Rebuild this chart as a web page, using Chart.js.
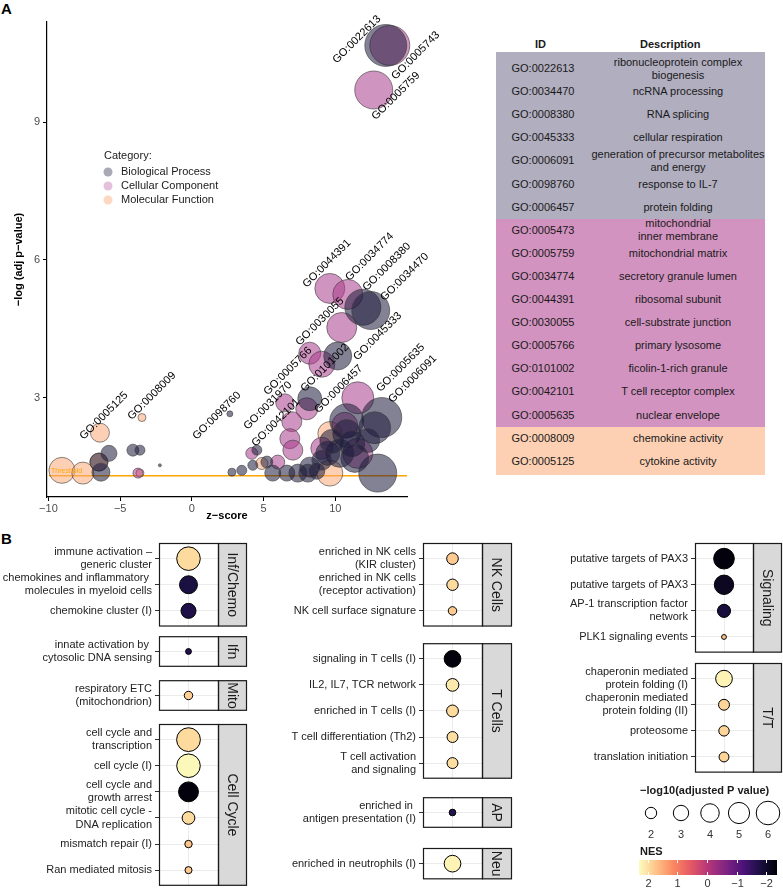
<!DOCTYPE html>
<html>
<head>
<meta charset="utf-8">
<script src="https://cdn.jsdelivr.net/npm/chart.js@4.4.1/dist/chart.umd.min.js"></script>
<style>
  body { margin: 0; width: 783px; height: 889px; position: relative; overflow: hidden; background: #fff;
         font-family: "Liberation Sans", Arial, Helvetica, sans-serif; }
  canvas, .abs { position: absolute; }
  .panelTag { font-weight: bold; font-size: 15px; }
  .row { position: absolute; left: 496px; width: 269px; font-size: 11px; color: #1a1a1a; }
  .row .id { position: absolute; left: 0; width: 94px; text-align: center; line-height: 13px; }
  .row .desc { position: absolute; left: 95px; width: 174px; text-align: center; white-space: pre-line; line-height: 13px; }
  .hdr { position: absolute; top: 38px; font-size: 11px; font-weight: bold; color: #1a1a1a; }
</style>
</head>
<body>
<div class="abs panelTag" style="left:1px;top:0px">A</div>
<div class="abs panelTag" style="left:1px;top:530px">B</div>
<canvas id="bubbleA" width="460" height="530" style="left:0;top:0"></canvas>
<div id="goTable"></div>
<canvas id="legendB" width="160" height="115" style="left:625px;top:776px"></canvas>

<script>
// ---------- Panel A : GO bubble plot ----------
const categories = ['Biological Process', 'Cellular Component', 'Molecular Function'];

const bpX = [13.52, 11.92, 12.47, 10.17, 8.22, 13.24, 10.80, 12.75, 10.80, 10.31, 8.22, 12.96, 5.64, 6.62, 7.39, 8.08, 8.71, 5.23, 4.25, 4.53, 3.48, 2.79, 2.65, -5.78, -6.48, -6.34, -4.11, -3.62, -2.23, 9.48, 9.76, 11.15, 11.36, 12.26, 9.06];
const bpY = [10.67, 4.97, 4.90, 3.91, 2.98, 2.57, 2.50, 2.35, 2.22, 1.79, 1.49, 1.36, 1.36, 1.36, 1.36, 1.36, 1.40, 1.60, 1.53, 1.86, 1.42, 1.38, 2.65, 1.79, 1.60, 1.38, 1.86, 1.86, 1.53, 1.79, 2.05, 2.00, 1.68, 2.07, 1.64];
const bpSize = [21, 18, 19, 14, 12, 20, 17, 16, 14, 14, 10, 19, 8, 8, 9, 9, 8, 6, 5, 5, 5, 4, 3, 8, 9, 9, 6, 5, 1.5, 12, 12, 13, 14, 12, 10];

const ccX = [13.80, 12.68, 9.62, 10.87, 10.45, 8.22, 9.06, 6.48, 8.01, 11.57, 6.97, 6.83, 7.04, 11.57, 9.06, 5.99, 4.18, 10.66, -3.76];
const ccY = [10.67, 9.70, 5.38, 5.25, 4.53, 3.97, 3.73, 2.89, 2.76, 3.00, 2.48, 2.11, 1.86, 1.79, 1.90, 1.60, 1.79, 2.40, 1.36];
const ccSize = [20, 19, 15, 15, 15, 11, 13, 9, 11, 16, 10, 10, 10, 15, 11, 7, 6, 13, 5];

const mfX = [-6.41, -3.48, -6.48, -9.06, -7.60, -3.62, 9.62, 9.62, 4.88];
const mfY = [2.24, 2.57, 1.60, 1.42, 1.36, 1.36, 2.22, 1.36, 1.57];
const mfSize = [9.5, 4, 9, 13, 11, 4, 12, 13, 6];

const goLabels = ['GO:0022613', 'GO:0005743', 'GO:0005759', 'GO:0044391', 'GO:0034774', 'GO:0008380', 'GO:0034470',
  'GO:0030055', 'GO:0045333', 'GO:0005766', 'GO:0101002', 'GO:0031970', 'GO:0006457', 'GO:0042101', 'GO:0005635',
  'GO:0006091', 'GO:0098760', 'GO:0005125', 'GO:0008009'];
const goLabelX = [11.50, 15.61, 14.22, 9.41, 12.40, 13.59, 14.84, 8.92, 12.96, 6.69, 9.27, 5.30, 10.24, 5.85, 14.56, 15.40, 1.74, -6.13, -2.79];
const goLabelY = [10.80, 10.45, 9.57, 5.92, 6.07, 5.85, 5.63, 4.66, 4.34, 3.58, 3.65, 2.83, 3.19, 2.46, 3.65, 3.41, 2.61, 2.61, 3.04];

const xTicksA = [-10, -5, 0, 5, 10];
const yTicksA = [3, 6, 9];
const threshold = 1.3;

// table on the right of panel A
const tableIds = ['GO:0022613', 'GO:0034470', 'GO:0008380', 'GO:0045333', 'GO:0006091', 'GO:0098760', 'GO:0006457',
  'GO:0005473', 'GO:0005759', 'GO:0034774', 'GO:0044391', 'GO:0030055', 'GO:0005766', 'GO:0101002', 'GO:0042101',
  'GO:0005635', 'GO:0008009', 'GO:0005125'];
const tableDesc = ['ribonucleoprotein complex\nbiogenesis', 'ncRNA processing', 'RNA splicing', 'cellular respiration',
  'generation of precursor metabolites\nand energy', 'response to IL-7', 'protein folding', 'mitochondrial\ninner membrane',
  'mitochondrial matrix', 'secretory granule lumen', 'ribosomal subunit', 'cell-substrate junction', 'primary lysosome',
  'ficolin-1-rich granule', 'T cell receptor complex', 'nuclear envelope', 'chemokine activity', 'cytokine activity'];
const tableCat = [0, 0, 0, 0, 0, 0, 0, 1, 1, 1, 1, 1, 1, 1, 1, 1, 2, 2];

// ---------- Panel B : facetted dot plots ----------
const col1Facets = ['Inf/Chemo', 'Ifn', 'Mito', 'Cell Cycle'];
const col1Terms = [
  [['immune activation –', 'generic cluster'], ['chemokines and inflammatory ', 'molecules in myeloid cells'], 'chemokine cluster (I)'],
  [['innate activation by ', 'cytosolic DNA sensing']],
  [['respiratory ETC', '(mitochondrion)']],
  [['cell cycle and', 'transcription'], 'cell cycle (I)', ['cell cycle and', 'growth arrest'], ['mitotic cell cycle -', 'DNA replication'], 'mismatch repair (I)', 'Ran mediated mitosis']
];
const col1LogP = [[6.0, 3.8, 2.9], [1.1], [1.45], [6.1, 6.0, 4.5, 2.3, 1.3, 1.25]];
const col1NES = [[1.95, -1.8, -1.75], [-1.7], [1.85], [1.95, 2.25, -2.3, 1.95, 1.75, 1.8]];

const col2Facets = ['NK Cells', 'T Cells', 'AP', 'Neu'];
const col2Terms = [
  [['enriched in NK cells', '(KIR cluster)'], ['enriched in NK cells', '(receptor activation)'], 'NK cell surface signature'],
  ['signaling in T cells (I)', 'IL2, IL7, TCR network', 'enriched in T cells (I)', 'T cell differentiation (Th2)', ['T cell activation', 'and signaling']],
  [['enriched in ', 'antigen presentation (I)']],
  ['enriched in neutrophils (I)']
];
const col2LogP = [[2.05, 2.0, 1.45], [3.4, 2.3, 2.1, 1.9, 1.9], [1.2], [3.4]];
const col2NES = [[1.8, 1.95, 1.8], [-2.3, 2.1, 1.95, 2.0, 2.0], [-1.7], [2.2]];

const col3Facets = ['Signaling', 'T/T'];
const col3Terms = [
  ['putative targets of PAX3', 'putative targets of PAX3', ['AP-1 transcription factor', 'network'], 'PLK1 signaling events'],
  [['chaperonin mediated', 'protein folding (I)'], ['chaperonin mediated', 'protein folding (II)'], 'proteosome', 'translation initiation']
];
const col3LogP = [[4.8, 4.3, 2.4, 1.0], [3.4, 1.9, 1.8, 1.7]];
const col3NES = [[-2.3, -2.1, -1.85, 1.75], [2.2, 1.9, 1.9, 1.9]];

const sizeLegendValues = [2, 3, 4, 5, 6];
const nesLegendValues = [2, 1, 0, -1, -2];
const nesLimits = [-2.37, 2.3];

// ---------- styling ----------
const FONT = '"Liberation Sans", Arial, Helvetica, sans-serif';
Chart.defaults.font.family = FONT;
Chart.defaults.animation = false;
Chart.defaults.events = [];
Chart.defaults.plugins.legend.display = false;
Chart.defaults.plugins.tooltip.enabled = false;

const catFill = ['rgba(30,27,60,0.55)', 'rgba(170,60,140,0.55)', 'rgba(252,170,120,0.55)'];
const catKey = ['rgba(30,27,60,0.38)', 'rgba(170,60,140,0.32)', 'rgba(252,170,120,0.45)'];
const catTable = ['#b1aebf', '#d393c0', '#fdd0b4'];

const magma = ['#000004', '#1c1044', '#4f127b', '#812581', '#b5367a', '#e55964', '#fb8761', '#fec287', '#fcfdbf'];

function hexRgb(h) { return [1, 3, 5].map(i => parseInt(h.substr(i, 2), 16)); }

function nesColor(v) {
  let t = (v - nesLimits[0]) / (nesLimits[1] - nesLimits[0]);
  t = Math.max(0, Math.min(1, t)) * (magma.length - 1);
  const i = Math.min(Math.floor(t), magma.length - 2);
  const f = t - i;
  const a = hexRgb(magma[i]), b = hexRgb(magma[i + 1]);
  return 'rgb(' + a.map((c, k) => Math.round(c + (b[k] - c) * f)).join(',') + ')';
}

// area scale for -log10(adj p)
function pRadius(v) { return Math.sqrt(Math.max(26.6 * v - 20.7, 4)); }

function points(xs, ys, rs) { return xs.map((x, i) => ({ x: x, y: ys[i], r: rs[i] })); }

// ---------- Panel A chart ----------
const panelAExtras = {
  id: 'panelAExtras',
  beforeDatasetsDraw(chart) {
    const { ctx, chartArea: a, scales: { y } } = chart;
    const py = y.getPixelForValue(threshold);
    ctx.save();
    ctx.strokeStyle = '#FFA500';
    ctx.lineWidth = 1.5;
    ctx.beginPath(); ctx.moveTo(a.left + 2, py); ctx.lineTo(a.right, py); ctx.stroke();
    ctx.restore();
  },
  afterDraw(chart) {
    const { ctx, chartArea: a, scales: { x, y } } = chart;
    ctx.save();
    // threshold tag
    ctx.fillStyle = '#FFA500';
    ctx.font = '7px ' + FONT;
    ctx.textBaseline = 'bottom';
    ctx.fillText('Threshold', a.left + 4, y.getPixelForValue(threshold) - 1);

    // GO labels
    ctx.fillStyle = '#000';
    ctx.font = '11px ' + FONT;
    ctx.textAlign = 'center';
    ctx.textBaseline = 'middle';
    goLabels.forEach((g, i) => {
      ctx.save();
      ctx.translate(x.getPixelForValue(goLabelX[i]), y.getPixelForValue(goLabelY[i]));
      ctx.rotate(-Math.PI / 4);
      ctx.fillText(g, 0, 0);
      ctx.restore();
    });

    // axis titles
    ctx.font = 'bold 11px ' + FONT;
    ctx.fillStyle = '#000';
    ctx.fillText('z\u2212score', (a.left + a.right) / 2, 516);
    ctx.save();
    ctx.translate(19, (a.top + a.bottom) / 2);
    ctx.rotate(-Math.PI / 2);
    ctx.fillText('\u2212log (adj p\u2212value)', 0, 0);
    ctx.restore();

    // category legend
    ctx.textAlign = 'left';
    ctx.font = '11px ' + FONT;
    ctx.fillStyle = '#1a1a1a';
    ctx.fillText('Category:', 104, 156);
    categories.forEach((c, i) => {
      const cy = 172 + i * 14;
      ctx.beginPath();
      ctx.arc(108, cy, 4.5, 0, Math.PI * 2);
      ctx.fillStyle = catKey[i];
      ctx.fill();
      ctx.fillStyle = '#1a1a1a';
      ctx.fillText(c, 121, cy);
    });
    ctx.restore();
  }
};

new Chart(document.getElementById('bubbleA'), {
  type: 'bubble',
  data: {
    datasets: [
      { label: categories[0], data: points(bpX, bpY, bpSize), backgroundColor: catFill[0] },
      { label: categories[1], data: points(ccX, ccY, ccSize), backgroundColor: catFill[1] },
      { label: categories[2], data: points(mfX, mfY, mfSize), backgroundColor: catFill[2] }
    ].map(d => Object.assign(d, { borderColor: 'rgba(60,60,60,0.6)', borderWidth: 1, clip: false }))
  },
  options: {
    responsive: false,
    layout: { padding: { left: 0, top: 18, right: 53, bottom: 0 } },
    scales: {
      x: {
        type: 'linear', min: -10.1, max: 15, bounds: 'data',
        afterBuildTicks: s => { s.ticks = xTicksA.map(v => ({ value: v })); },
        afterFit: s => { s.height = 33; },
        ticks: { color: '#4d4d4d', font: { size: 11 }, padding: 1, callback: v => String(v).replace('-', '\u2212') },
        grid: { drawOnChartArea: false, color: '#000', tickLength: 4 },
        border: { color: '#000', width: 1.2 }
      },
      y: {
        type: 'linear', min: 0.84, max: 11.18, bounds: 'data',
        afterBuildTicks: s => { s.ticks = yTicksA.map(v => ({ value: v })); },
        afterFit: s => { s.width = 47; },
        ticks: { color: '#4d4d4d', font: { size: 11 }, padding: 3 },
        grid: { drawOnChartArea: false, color: '#000', tickLength: 4 },
        border: { color: '#000', width: 1.2 }
      }
    }
  },
  plugins: [panelAExtras]
});

// ---------- GO table ----------
const tbl = document.getElementById('goTable');
const ROW_H = 23.1, FIRST_C = 69, TBL_TOP = 52, TBL_BOT = 475;
tbl.innerHTML = '<div class="hdr" style="left:535px">ID</div><div class="hdr" style="left:640px">Description</div>';
tableIds.forEach((id, i) => {
  const r = document.createElement('div');
  const c = FIRST_C + i * ROW_H;
  const top = i === 0 ? TBL_TOP : Math.round(c - ROW_H / 2);
  const bot = i === tableIds.length - 1 ? TBL_BOT : Math.round(c + ROW_H / 2);
  r.className = 'row';
  r.style.top = top + 'px';
  r.style.height = (bot - top) + 'px';
  r.style.background = catTable[tableCat[i]];
  const lines = tableDesc[i].split('\n').length;
  r.innerHTML = '<div class="id" style="top:' + (c - top - 7) + 'px">' + id + '</div>' +
    '<div class="desc" style="top:' + (c - top - lines * 6.5 - 0.5) + 'px">' + tableDesc[i] + '</div>';
  tbl.appendChild(r);
});

// ---------- Panel B facets ----------
const ROW = 26.1;
const PAD = 16;
const columns = [
  { left: 0, axisW: 159, panelW: 59, stripW: 29, tops: [543, 636, 680, 724], facets: col1Facets, terms: col1Terms, logp: col1LogP, nes: col1NES },
  { left: 250, axisW: 173, panelW: 59, stripW: 30, tops: [543, 643, 797, 848], facets: col2Facets, terms: col2Terms, logp: col2LogP, nes: col2NES },
  { left: 512, axisW: 183, panelW: 58, stripW: 29, tops: [543, 663], facets: col3Facets, terms: col3Terms, logp: col3LogP, nes: col3NES }
];

function stripPlugin(name, sw) {
  return {
    id: 'strip',
    afterDraw(chart) {
      const { ctx, chartArea: a } = chart;
      const h = a.bottom - a.top;
      ctx.save();
      ctx.fillStyle = '#d9d9d9';
      ctx.fillRect(a.right, a.top, sw, h);
      ctx.strokeStyle = '#1a1a1a';
      ctx.lineWidth = 1.2;
      ctx.strokeRect(a.left + 0.5, a.top + 0.5, a.right - a.left, h - 1);
      ctx.strokeRect(a.right + 0.5, a.top + 0.5, sw - 1, h - 1);
      ctx.beginPath();
      ctx.rect(a.right + 1, a.top + 1, sw - 2, h - 2);
      ctx.clip();
      ctx.translate(a.right + sw / 2, (a.top + a.bottom) / 2);
      ctx.rotate(Math.PI / 2);
      ctx.fillStyle = '#1a1a1a';
      ctx.font = '14px ' + FONT;
      ctx.textAlign = 'center';
      ctx.textBaseline = 'middle';
      ctx.fillText(name, 0, 1);
      ctx.restore();
    }
  };
}

function makeFacet(col, k) {
  const terms = col.terms[k];
  const n = terms.length;
  const h = (n + 0.2) * ROW;
  const cv = document.createElement('canvas');
  cv.width = col.axisW + col.panelW + col.stripW + 2;
  cv.height = Math.round(h + 2 * PAD);
  cv.style.left = col.left + 'px';
  cv.style.top = Math.round(col.tops[k] - PAD) + 'px';
  document.body.appendChild(cv);

  new Chart(cv, {
    type: 'bubble',
    data: {
      datasets: [{
        data: terms.map((t, i) => ({ x: 0, y: i, r: pRadius(col.logp[k][i]) })),
        backgroundColor: col.nes[k].map(nesColor),
        borderColor: '#000',
        borderWidth: 1,
        clip: false
      }]
    },
    options: {
      responsive: false,
      layout: { padding: { left: 0, right: cv.width - col.axisW - col.panelW, top: PAD, bottom: cv.height - PAD - h } },
      scales: {
        x: {
          type: 'linear', min: -1, max: 1, bounds: 'data',
          afterBuildTicks: s => { s.ticks = [{ value: 0 }]; },
          afterFit: s => { s.height = 0; },
          ticks: { display: false },
          grid: { color: '#ebebeb', drawTicks: false },
          border: { display: false }
        },
        y: {
          type: 'linear', reverse: true, min: -0.6, max: n - 0.4, bounds: 'data',
          afterBuildTicks: s => { s.ticks = terms.map((t, i) => ({ value: i })); },
          afterFit: s => { s.width = col.axisW; },
          ticks: { autoSkip: false, color: '#222', font: { size: 11, lineHeight: 1.2 }, padding: 3, callback: v => terms[v] },
          grid: { color: '#ebebeb', tickColor: '#333', tickLength: 4 },
          border: { display: false }
        }
      }
    },
    plugins: [stripPlugin(col.facets[k], col.stripW)]
  });
}

columns.forEach(col => col.facets.forEach((f, k) => makeFacet(col, k)));

// ---------- Panel B legends ----------
(function drawLegends() {
  const cv = document.getElementById('legendB');
  const ctx = cv.getContext('2d');
  const ox = 625, oy = 776;
  ctx.translate(-ox, -oy);
  ctx.fillStyle = '#1a1a1a';
  ctx.font = 'bold 11px ' + FONT;
  ctx.textBaseline = 'middle';
  ctx.fillText('\u2212log10(adjusted P value)', 640, 791);

  const cx = [651, 681, 710, 739, 768];
  ctx.font = '11px ' + FONT;
  ctx.textAlign = 'center';
  sizeLegendValues.forEach((v, i) => {
    ctx.beginPath();
    ctx.arc(cx[i], 813, pRadius(v), 0, Math.PI * 2);
    ctx.fillStyle = '#fff';
    ctx.fill();
    ctx.strokeStyle = '#000';
    ctx.lineWidth = 1;
    ctx.stroke();
    ctx.fillStyle = '#333';
    ctx.fillText(String(v), cx[i], 835);
  });

  ctx.textAlign = 'left';
  ctx.fillStyle = '#1a1a1a';
  ctx.font = 'bold 11px ' + FONT;
  ctx.fillText('NES', 640, 852);

  const x0 = 639, x1 = 777, y0 = 860, y1 = 875;
  const toX = v => x0 + (nesLimits[1] - v) / (nesLimits[1] - nesLimits[0]) * (x1 - x0);
  for (let px = x0; px < x1; px++) {
    const v = nesLimits[1] - (px - x0 + 0.5) / (x1 - x0) * (nesLimits[1] - nesLimits[0]);
    ctx.fillStyle = nesColor(v);
    ctx.fillRect(px, y0, 1, y1 - y0);
  }
  ctx.strokeStyle = '#fff';
  ctx.lineWidth = 1;
  ctx.font = '11px ' + FONT;
  ctx.textAlign = 'center';
  nesLegendValues.forEach(v => {
    const px = Math.round(toX(v)) + 0.5;
    ctx.beginPath();
    ctx.moveTo(px, y0); ctx.lineTo(px, y0 + 3);
    ctx.moveTo(px, y1); ctx.lineTo(px, y1 - 3);
    ctx.stroke();
    ctx.fillStyle = '#333';
    ctx.fillText(String(v).replace('-', '\u2212'), px, 884);
  });
})();
</script>
</body>
</html>
